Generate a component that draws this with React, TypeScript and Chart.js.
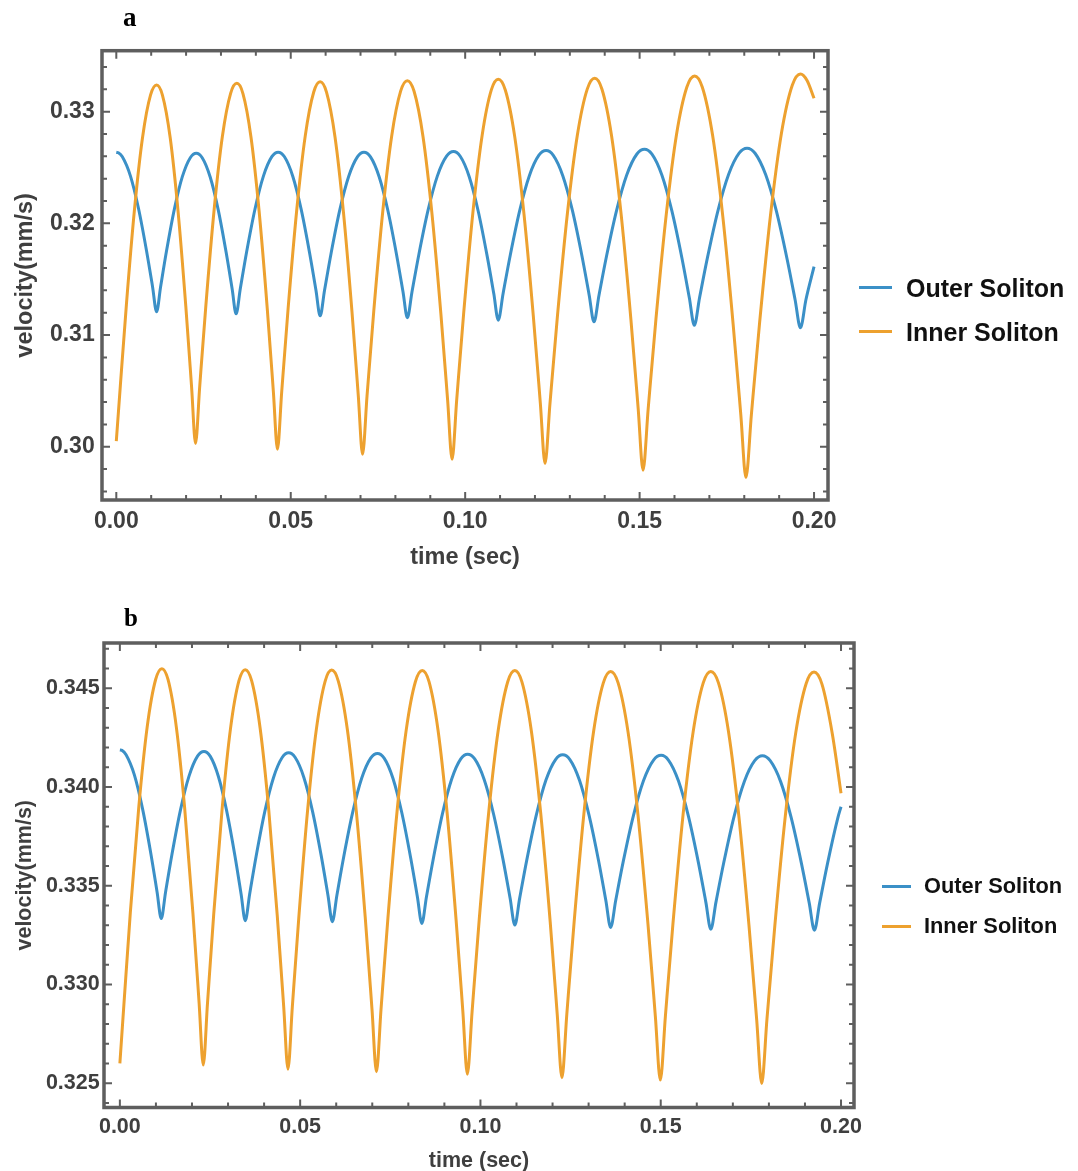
import React, { useEffect, useRef } from "react";
import { Chart, registerables } from "chart.js";

Chart.register(...registerables);

// ---------------- data (time in sec, velocity in mm/s) ----------------
const seriesNames = ["Outer Soliton", "Inner Soliton"];
const outerColor = "#3B90C7";
const innerColor = "#EDA12F";

// Panel a
const aOuter: [number, number][] = [
  [0, 0.32636], [0.0006, 0.32632],
  [0.00173, 0.32596], [0.00404, 0.32425], [0.00635, 0.32135], [0.00866, 0.31755], [0.0104, 0.31431],
  [0.01155, 0.31208],
  [0.01269, 0.3143], [0.01439, 0.31752], [0.01666, 0.3213], [0.01893, 0.32418], [0.02121, 0.32588],
  [0.02291, 0.32628],
  [0.02462, 0.32588], [0.02691, 0.32415], [0.0292, 0.32123], [0.03148, 0.31741], [0.0332, 0.31414],
  [0.03434, 0.3119],
  [0.03555, 0.31416], [0.03735, 0.31744], [0.03976, 0.32129], [0.04217, 0.32423], [0.04458, 0.32597],
  [0.04639, 0.32637],
  [0.0482, 0.32596], [0.0506, 0.3242], [0.05301, 0.32123], [0.05542, 0.31733], [0.05723, 0.31401],
  [0.05843, 0.31172],
  [0.05969, 0.31401], [0.06157, 0.31733], [0.06408, 0.32123], [0.0666, 0.3242], [0.06911, 0.32596],
  [0.07099, 0.32637],
  [0.07286, 0.32596], [0.07534, 0.32418], [0.07783, 0.32117], [0.08032, 0.31722], [0.08219, 0.31385],
  [0.08343, 0.31154],
  [0.08475, 0.31386], [0.08674, 0.31724], [0.08938, 0.3212], [0.09202, 0.32423], [0.09467, 0.32601],
  [0.09665, 0.32643],
  [0.09858, 0.32601], [0.10114, 0.3242], [0.10371, 0.32113], [0.10628, 0.31711], [0.10821, 0.31369],
  [0.10949, 0.31133],
  [0.11086, 0.3137], [0.11292, 0.31715], [0.11566, 0.32119], [0.1184, 0.32427], [0.12114, 0.3261],
  [0.1232, 0.32652],
  [0.12526, 0.32609], [0.128, 0.32425], [0.13075, 0.32114], [0.13349, 0.31706], [0.13555, 0.31357],
  [0.13692, 0.31118],
  [0.13837, 0.31359], [0.14054, 0.3171], [0.14344, 0.32121], [0.14633, 0.32435], [0.14923, 0.32621],
  [0.1514, 0.32664],
  [0.15354, 0.3262], [0.1564, 0.32431], [0.15925, 0.32111], [0.16211, 0.31692], [0.16425, 0.31334],
  [0.16568, 0.31088],
  [0.16719, 0.31335], [0.16946, 0.31695], [0.17248, 0.32117], [0.1755, 0.32438], [0.17852, 0.32629],
  [0.18079, 0.32673],
  [0.18309, 0.32628], [0.18615, 0.32435], [0.18921, 0.32109], [0.19227, 0.31681], [0.19457, 0.31316],
  [0.1961, 0.31065],
  [0.19767, 0.31316], [0.2, 0.31612],
];

const aInner: [number, number][] = [
  [0, 0.3005],
  [0.00116, 0.30548], [0.00289, 0.31271], [0.0052, 0.3212], [0.00751, 0.32767], [0.00982, 0.3315],
  [0.01155, 0.33239],
  [0.01322, 0.33149], [0.01546, 0.32764], [0.01769, 0.32112], [0.01992, 0.31258], [0.02159, 0.3053],
  [0.02271, 0.30029],
  [0.02389, 0.30532], [0.02567, 0.31264], [0.02804, 0.32122], [0.0304, 0.32777], [0.03277, 0.33164],
  [0.03455, 0.33254],
  [0.0363, 0.33162], [0.03862, 0.32769], [0.04095, 0.32104], [0.04328, 0.31233], [0.04503, 0.30489],
  [0.04619, 0.29978],
  [0.04741, 0.30491], [0.04925, 0.31238], [0.0517, 0.32113], [0.05415, 0.32781], [0.05659, 0.33176],
  [0.05843, 0.33268],
  [0.06025, 0.33175], [0.06269, 0.32774], [0.06512, 0.32097], [0.06755, 0.3121], [0.06937, 0.30453],
  [0.07059, 0.29933],
  [0.07187, 0.30455], [0.0738, 0.31214], [0.07637, 0.32104], [0.07894, 0.32783], [0.0815, 0.33184],
  [0.08343, 0.33278],
  [0.08535, 0.33183], [0.08792, 0.32776], [0.09048, 0.32088], [0.09305, 0.31186], [0.09497, 0.30417],
  [0.09625, 0.29888],
  [0.09757, 0.30419], [0.09956, 0.31191], [0.10221, 0.32096], [0.10486, 0.32787], [0.1075, 0.33195],
  [0.10949, 0.3329],
  [0.1115, 0.33194], [0.11418, 0.32781], [0.11686, 0.32083], [0.11954, 0.31168], [0.12155, 0.30387],
  [0.12289, 0.2985],
  [0.12431, 0.30388], [0.12645, 0.31171], [0.1293, 0.32088], [0.13215, 0.32789], [0.13499, 0.33202],
  [0.13713, 0.33299],
  [0.13921, 0.33201], [0.14198, 0.3278], [0.14475, 0.32067], [0.14752, 0.31134], [0.1496, 0.30337],
  [0.15098, 0.2979],
  [0.15246, 0.30341], [0.15468, 0.31142], [0.15764, 0.32081], [0.16059, 0.32798], [0.16355, 0.33221],
  [0.16577, 0.3332],
  [0.16798, 0.33219], [0.17092, 0.32788], [0.17386, 0.32058], [0.1768, 0.31101], [0.17901, 0.30285],
  [0.18048, 0.29724],
  [0.18204, 0.30288], [0.18439, 0.31108], [0.18751, 0.3207], [0.19063, 0.32803], [0.19376, 0.33237],
  [0.1961, 0.33338],
  [0.198, 0.3328], [0.2, 0.3312],
];

// Panel b
const bOuter: [number, number][] = [
  [0, 0.34187], [0.0006, 0.34185],
  [0.00172, 0.34163], [0.00402, 0.34061], [0.00631, 0.33888], [0.00861, 0.33661], [0.01033, 0.33467],
  [0.01148, 0.33334],
  [0.01266, 0.33466], [0.01444, 0.33658], [0.0168, 0.33883], [0.01918, 0.34055], [0.02154, 0.34156],
  [0.02332, 0.3418],
  [0.02504, 0.34156], [0.02733, 0.34053], [0.02962, 0.33879], [0.03192, 0.33651], [0.03363, 0.33457],
  [0.03478, 0.33323],
  [0.03598, 0.33456], [0.03779, 0.33649], [0.04019, 0.33875], [0.0426, 0.34047], [0.04501, 0.34149],
  [0.04681, 0.34173],
  [0.04863, 0.34149], [0.05105, 0.34047], [0.05348, 0.33873], [0.0559, 0.33646], [0.05772, 0.33451],
  [0.05893, 0.33318],
  [0.06018, 0.33451], [0.06206, 0.33644], [0.06456, 0.33871], [0.06706, 0.34044], [0.06956, 0.34146],
  [0.07144, 0.3417],
  [0.07329, 0.34146], [0.07575, 0.34043], [0.07821, 0.33868], [0.08067, 0.33639], [0.08252, 0.33443],
  [0.08375, 0.33309],
  [0.08502, 0.33443], [0.08693, 0.33637], [0.08947, 0.33865], [0.09201, 0.34039], [0.09455, 0.34142],
  [0.09645, 0.34166],
  [0.09841, 0.34142], [0.10103, 0.34038], [0.10365, 0.33862], [0.10627, 0.33632], [0.10823, 0.33436],
  [0.10954, 0.33301],
  [0.11087, 0.33436], [0.11286, 0.33631], [0.11552, 0.3386], [0.11817, 0.34035], [0.12083, 0.34139],
  [0.12282, 0.34163],
  [0.12481, 0.34139], [0.12747, 0.34034], [0.13013, 0.33856], [0.13279, 0.33624], [0.13478, 0.33425],
  [0.13611, 0.33289],
  [0.13751, 0.33425], [0.13961, 0.33623], [0.14241, 0.33854], [0.14521, 0.34031], [0.14801, 0.34136],
  [0.15011, 0.3416],
  [0.15218, 0.34135], [0.15493, 0.3403], [0.15769, 0.33851], [0.16045, 0.33617], [0.16251, 0.33417],
  [0.16389, 0.3328],
  [0.16532, 0.33417], [0.16747, 0.33616], [0.17033, 0.3385], [0.17319, 0.34028], [0.17606, 0.34133],
  [0.1782, 0.34158],
  [0.18036, 0.34133], [0.18325, 0.34027], [0.18613, 0.33848], [0.18902, 0.33613], [0.19118, 0.33413],
  [0.19262, 0.33275],
  [0.19407, 0.33412], [0.19625, 0.33612], [0.19915, 0.33846], [0.2, 0.339],
];

const bInner: [number, number][] = [
  [0, 0.326],
  [0.00117, 0.32912], [0.00291, 0.33366], [0.00524, 0.33897], [0.00757, 0.34303], [0.0099, 0.34543],
  [0.01165, 0.34599],
  [0.01337, 0.34543], [0.01567, 0.34302], [0.01796, 0.33895], [0.02026, 0.33361], [0.02198, 0.32905],
  [0.02313, 0.32592],
  [0.0243, 0.32904], [0.02604, 0.33359], [0.02837, 0.33891], [0.0307, 0.34298], [0.03303, 0.34538],
  [0.03478, 0.34594],
  [0.03656, 0.34537], [0.03892, 0.34295], [0.04129, 0.33884], [0.04366, 0.33346], [0.04544, 0.32887],
  [0.04662, 0.32571],
  [0.04783, 0.32886], [0.04965, 0.33345], [0.05207, 0.33883], [0.0545, 0.34293], [0.05692, 0.34535],
  [0.05874, 0.34592],
  [0.0606, 0.34535], [0.06309, 0.34291], [0.06557, 0.33878], [0.06806, 0.33337], [0.06992, 0.32875],
  [0.07116, 0.32558],
  [0.07243, 0.32875], [0.07434, 0.33336], [0.07688, 0.33877], [0.07942, 0.34289], [0.08196, 0.34533],
  [0.08386, 0.3459],
  [0.08574, 0.34533], [0.08824, 0.34287], [0.09074, 0.33872], [0.09324, 0.33328], [0.09512, 0.32864],
  [0.09637, 0.32545],
  [0.09769, 0.32864], [0.09966, 0.33328], [0.1023, 0.33872], [0.10493, 0.34287], [0.10757, 0.34533],
  [0.10954, 0.3459],
  [0.1115, 0.34532], [0.11411, 0.34285], [0.11672, 0.33866], [0.11934, 0.33318], [0.12129, 0.3285],
  [0.1226, 0.32528],
  [0.12395, 0.32849], [0.12598, 0.33316], [0.12868, 0.33863], [0.13138, 0.34281], [0.13408, 0.34527],
  [0.13611, 0.34585],
  [0.13818, 0.34527], [0.14093, 0.34279], [0.14369, 0.33859], [0.14645, 0.33308], [0.14851, 0.32839],
  [0.14989, 0.32516],
  [0.15129, 0.32839], [0.15339, 0.33308], [0.15619, 0.33859], [0.15899, 0.34279], [0.16179, 0.34527],
  [0.16389, 0.34585],
  [0.16601, 0.34527], [0.16883, 0.34276], [0.17166, 0.33853], [0.17448, 0.33298], [0.1766, 0.32824],
  [0.17801, 0.32499],
  [0.17946, 0.32824], [0.18164, 0.33297], [0.18454, 0.33851], [0.18744, 0.34274], [0.19034, 0.34524],
  [0.19251, 0.34582],
  [0.19469, 0.34522], [0.19758, 0.3427], [0.2, 0.33968],
];

// Ticks
const xMajorTicks = [0, 0.05, 0.1, 0.15, 0.2];
const xTickLabels = ["0.00", "0.05", "0.10", "0.15", "0.20"];
const xMinorTicks = [0.01, 0.02, 0.03, 0.04, 0.06, 0.07, 0.08, 0.09, 0.11, 0.12, 0.13, 0.14, 0.16, 0.17, 0.18, 0.19];

const aYMajorTicks = [0.3, 0.31, 0.32, 0.33];
const aYTickLabels = ["0.30", "0.31", "0.32", "0.33"];
const aYMinorTicks = [0.296, 0.298, 0.302, 0.304, 0.306, 0.308, 0.312, 0.314, 0.316, 0.318, 0.322, 0.324, 0.326, 0.328, 0.332, 0.334];

const bYMajorTicks = [0.325, 0.33, 0.335, 0.34, 0.345];
const bYTickLabels = ["0.325", "0.330", "0.335", "0.340", "0.345"];
const bYMinorTicks = [0.324, 0.326, 0.327, 0.328, 0.329, 0.331, 0.332, 0.333, 0.334, 0.336, 0.337, 0.338, 0.339, 0.341, 0.342, 0.343, 0.344, 0.346, 0.347];

const xAxisTitle = "time (sec)";
const yAxisTitle = "velocity(mm/s)";

// ---------------- plugin: Mathematica-like frame with inward ticks ----------------
const framePlugin = {
  id: "mmaFrame",
  afterDatasetsDraw(chart: any, _args: any, opts: any) {
    const { ctx, chartArea: ca, scales } = chart;
    const xs = scales.x;
    const ys = scales.y;
    ctx.save();
    ctx.strokeStyle = opts.color;
    ctx.lineCap = "butt";
    const drawX = (vals: number[], len: number) => {
      vals.forEach((v) => {
        const px = xs.getPixelForValue(v);
        ctx.beginPath();
        ctx.moveTo(px, ca.bottom);
        ctx.lineTo(px, ca.bottom - len);
        ctx.moveTo(px, ca.top);
        ctx.lineTo(px, ca.top + len);
        ctx.stroke();
      });
    };
    const drawY = (vals: number[], len: number) => {
      vals.forEach((v) => {
        const py = ys.getPixelForValue(v);
        if (py < ca.top || py > ca.bottom) return;
        ctx.beginPath();
        ctx.moveTo(ca.left, py);
        ctx.lineTo(ca.left + len, py);
        ctx.moveTo(ca.right, py);
        ctx.lineTo(ca.right - len, py);
        ctx.stroke();
      });
    };
    ctx.lineWidth = opts.tickWidth;
    drawX(opts.xMajor, opts.majorLen);
    drawX(opts.xMinor, opts.minorLen);
    drawY(opts.yMajor, opts.majorLen);
    drawY(opts.yMinor, opts.minorLen);
    ctx.lineWidth = opts.frameWidth;
    ctx.strokeRect(ca.left, ca.top, ca.right - ca.left, ca.bottom - ca.top);
    ctx.restore();
  },
};

const FONT = '"Liberation Sans", Arial, Helvetica, sans-serif';

type PanelCfg = {
  outer: [number, number][];
  inner: [number, number][];
  xMin: number;
  xMax: number;
  yMin: number;
  yMax: number;
  yMajor: number[];
  yLabels: string[];
  yMinor: number[];
  padTop: number;
  padRight: number;
  yAxisWidth: number;
  xAxisHeight: number;
  tickFont: number;
  titleFont: number;
  xTickPad: number;
  yTickPad: number;
  xTitlePadBottom: number;
  yTitlePadTop: number;
};

function buildChart(canvas: HTMLCanvasElement, p: PanelCfg) {
  return new Chart(canvas, {
    type: "line",
    data: {
      datasets: [
        {
          label: seriesNames[0],
          data: p.outer.map(([x, y]) => ({ x, y })),
          borderColor: outerColor,
          backgroundColor: outerColor,
          borderWidth: 3,
          pointRadius: 0,
          cubicInterpolationMode: "monotone",
          fill: false,
          order: 2,
        },
        {
          label: seriesNames[1],
          data: p.inner.map(([x, y]) => ({ x, y })),
          borderColor: innerColor,
          backgroundColor: innerColor,
          borderWidth: 3,
          pointRadius: 0,
          cubicInterpolationMode: "monotone",
          fill: false,
          order: 1,
        },
      ],
    },
    options: {
      responsive: false,
      animation: false,
      devicePixelRatio: 1,
      parsing: false,
      normalized: true,
      layout: { padding: { left: 0, top: p.padTop, right: p.padRight, bottom: 0 } },
      plugins: {
        legend: { display: false },
        title: { display: false },
        tooltip: { enabled: false },
        mmaFrame: {
          color: "#5e5e5e",
          frameWidth: 3.5,
          tickWidth: 2,
          majorLen: 8,
          minorLen: 5,
          xMajor: xMajorTicks,
          xMinor: xMinorTicks,
          yMajor: p.yMajor,
          yMinor: p.yMinor,
        },
      } as any,
      scales: {
        x: {
          type: "linear",
          min: p.xMin,
          max: p.xMax,
          grid: { display: false, drawTicks: false },
          border: { display: false },
          afterBuildTicks: (scale: any) => {
            scale.ticks = xMajorTicks.map((value) => ({ value }));
          },
          afterFit: (scale: any) => {
            scale.height = p.xAxisHeight;
          },
          ticks: {
            autoSkip: false,
            maxRotation: 0,
            padding: p.xTickPad,
            color: "#3f3f3f",
            font: { family: FONT, size: p.tickFont, weight: "bold" },
            callback: (_v: any, i: number) => xTickLabels[i],
          },
          title: {
            display: true,
            text: xAxisTitle,
            color: "#3f3f3f",
            font: { family: FONT, size: p.titleFont, weight: "bold" },
            padding: { top: 0, bottom: p.xTitlePadBottom },
          },
        },
        y: {
          type: "linear",
          min: p.yMin,
          max: p.yMax,
          grid: { display: false, drawTicks: false },
          border: { display: false },
          afterBuildTicks: (scale: any) => {
            scale.ticks = p.yMajor.map((value) => ({ value }));
          },
          afterFit: (scale: any) => {
            scale.width = p.yAxisWidth;
          },
          ticks: {
            autoSkip: false,
            padding: p.yTickPad,
            color: "#3f3f3f",
            font: { family: FONT, size: p.tickFont, weight: "bold" },
            callback: (_v: any, i: number) => p.yLabels[i],
          },
          title: {
            display: true,
            text: yAxisTitle,
            color: "#3f3f3f",
            font: { family: FONT, size: p.titleFont, weight: "bold" },
            padding: { top: p.yTitlePadTop, bottom: 0 },
          },
        },
      },
    } as any,
    plugins: [framePlugin as any],
  });
}

const panelA: PanelCfg = {
  outer: aOuter,
  inner: aInner,
  xMin: -0.0041,
  xMax: 0.204,
  yMin: 0.29523,
  yMax: 0.33546,
  yMajor: aYMajorTicks,
  yLabels: aYTickLabels,
  yMinor: aYMinorTicks,
  padTop: 50.7,
  padRight: 250,
  yAxisWidth: 102,
  xAxisHeight: 90,
  tickFont: 23,
  titleFont: 23.5,
  xTickPad: 8,
  yTickPad: 7.3,
  xTitlePadBottom: 17.9,
  yTitlePadTop: 11.9,
};

const panelB: PanelCfg = {
  outer: bOuter,
  inner: bInner,
  xMin: -0.0044,
  xMax: 0.2036,
  yMin: 0.32377,
  yMax: 0.34729,
  yMajor: bYMajorTicks,
  yLabels: bYTickLabels,
  yMinor: bYMinorTicks,
  padTop: 53,
  padRight: 224,
  yAxisWidth: 104,
  xAxisHeight: 92.5,
  tickFont: 21.5,
  titleFont: 21.5,
  xTickPad: 6.2,
  yTickPad: 4.3,
  xTitlePadBottom: 26.1,
  yTitlePadTop: 12.1,
};

function Legend(props: { left: number; rows: number[]; lineW: number; gap: number; font: number }) {
  const colors = [outerColor, innerColor];
  const lh = Math.round(props.font * 1.2);
  return (
    <>
      {seriesNames.map((name, i) => (
        <div
          key={name}
          style={{
            position: "absolute",
            left: props.left,
            top: props.rows[i] - lh / 2,
            height: lh,
            display: "flex",
            alignItems: "center",
            whiteSpace: "nowrap",
          }}
        >
          <span style={{ display: "inline-block", width: props.lineW, height: 3, background: colors[i], marginRight: props.gap }} />
          <span style={{ fontFamily: FONT, fontWeight: "bold", fontSize: props.font, lineHeight: lh + "px", color: "#111" }}>{name}</span>
        </div>
      ))}
    </>
  );
}

export default function App() {
  const refA = useRef<HTMLCanvasElement>(null);
  const refB = useRef<HTMLCanvasElement>(null);

  useEffect(() => {
    const ca = buildChart(refA.current!, panelA);
    const cb = buildChart(refB.current!, panelB);
    return () => {
      ca.destroy();
      cb.destroy();
    };
  }, []);

  const letter = (txt: string, left: number, top: number, size: number) => (
    <div
      style={{
        position: "absolute",
        left,
        top,
        fontFamily: '"Liberation Serif", "Times New Roman", serif',
        fontWeight: "bold",
        fontSize: size,
        lineHeight: 1,
        color: "#000",
      }}
    >
      {txt}
    </div>
  );

  return (
    <div style={{ position: "absolute", left: 0, top: 0, width: 1078, height: 1171, overflow: "hidden", background: "#fff" }}>
      <canvas ref={refA} width={1078} height={590} style={{ position: "absolute", left: 0, top: 0, display: "block" }} />
      <canvas ref={refB} width={1078} height={610} style={{ position: "absolute", left: 0, top: 590, display: "block" }} />
      {letter("a", 123, 3.5, 27)}
      {letter("b", 124, 605, 25)}
      <Legend left={859.4} rows={[287.7, 331.7]} lineW={33} gap={13.6} font={25} />
      <Legend left={881.5} rows={[886.3, 926]} lineW={29.5} gap={13} font={21.8} />
    </div>
  );
}
